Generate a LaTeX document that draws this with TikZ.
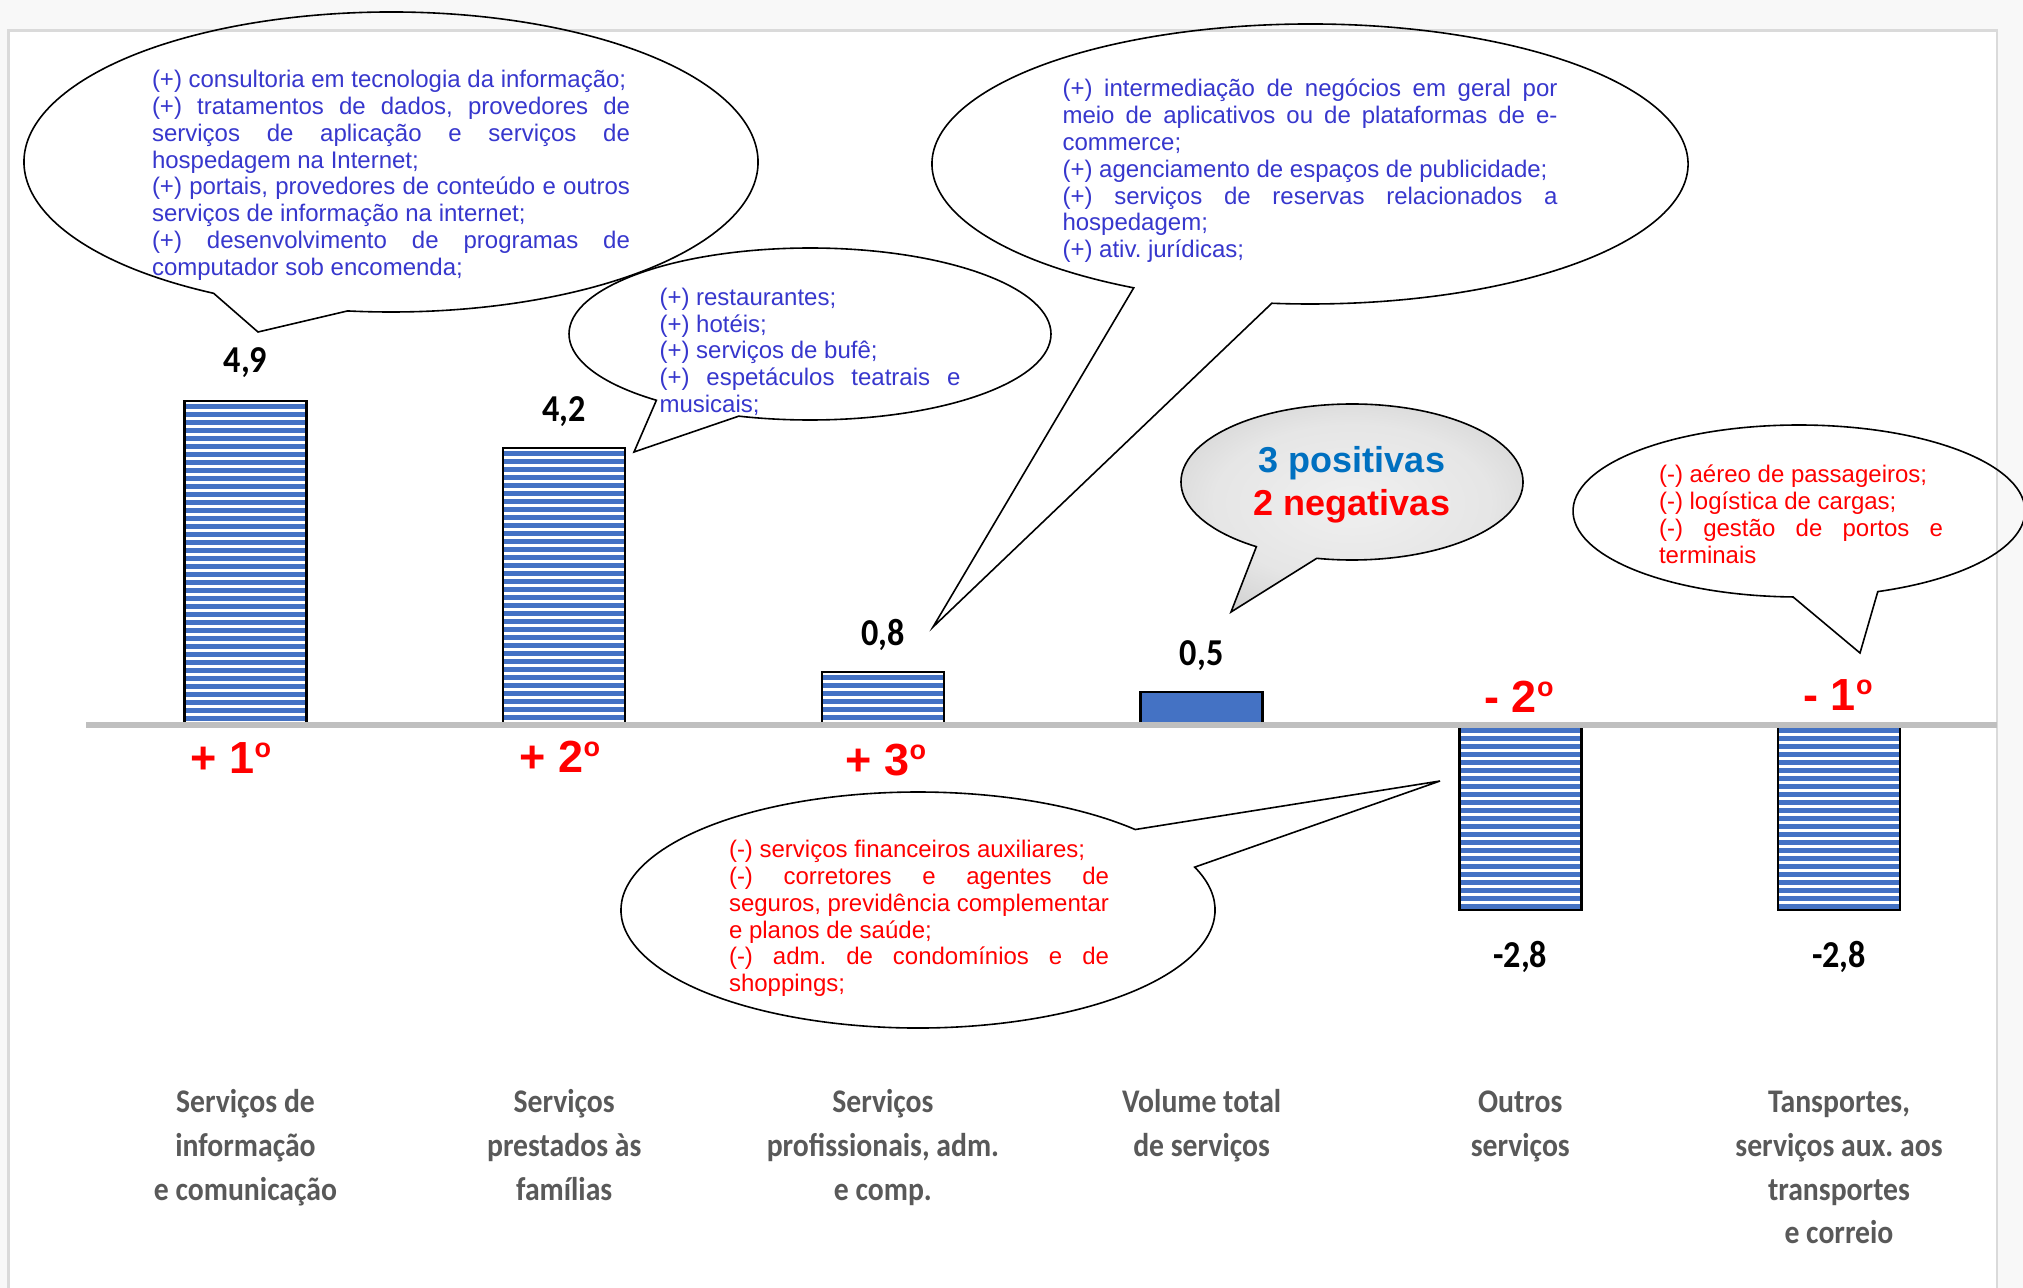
\documentclass[tikz,border=0pt]{standalone}
\usepackage{fontspec}
\setmainfont{Liberation Sans}
\newfontfamily\calfont[FakeStretch=0.9]{Carlito}
\frenchspacing
\definecolor{bgout}{HTML}{F8F8F8}
\definecolor{framegray}{HTML}{DADADA}
\definecolor{axisgray}{HTML}{BFBFBF}
\definecolor{barblue}{HTML}{4472C4}
\definecolor{txtblue}{RGB}{55,55,205}
\definecolor{posblue}{HTML}{0070C0}
\definecolor{catgray}{HTML}{595959}
\pgfdeclareradialshading{callgrad}{\pgfpoint{0bp}{0bp}}{color(0bp)=(white!94!black); color(18bp)=(white!90!black); color(50bp)=(black!33)}
\newcommand{\ordo}{\raisebox{8pt}{\fontsize{13.5}{13.5}\selectfont o}}
\newcommand{\jline}[2]{\makebox[#1][s]{#2}}
\newcommand{\stripebar}[4]{%
  \begin{scope}
    \clip (#1,#2) rectangle (#3,#4);
    \foreach \k in {0,...,45}{\fill[barblue] (#1,#2+3.4+8*\k) rectangle (#3,#2+8.2+8*\k);}
  \end{scope}
  \draw[barframe] (#1,#2) rectangle (#3,#4);}
\begin{document}
\begin{tikzpicture}[x=0.5pt,y=-0.5pt,
  callout/.style={draw=black, line width=0.8pt, line join=miter},
  bartxt/.style={font=\calfont\bfseries\fontsize{19}{21}\selectfont, anchor=base, inner sep=0pt},
  rank/.style={font=\bfseries\fontsize{22.5}{24}\selectfont, text=red, anchor=base, inner sep=0pt},
  cat/.style={font=\calfont\bfseries\fontsize{16.5}{21.9}\selectfont, text=catgray, align=center, anchor=north, inner sep=0pt},
  ctext/.style={font=\fontsize{12}{13.4}\selectfont, align=left, anchor=north, inner sep=0pt},
  barframe/.style={draw=black, line width=1.2pt},
]
\useasboundingbox (0,0) rectangle (2023,1288);
% page background and frame
\fill[bgout] (0,0) rectangle (2023,1288);
\fill[white] (8.5,30.5) rectangle (1997,1288);
\draw[framegray, line width=1.2pt] (8.5,1288) -- (8.5,30.5) -- (1997,30.5) -- (1997,1288);

% bars
\stripebar{184.5}{401}{306.5}{725}
\stripebar{503.2}{448}{625.2}{725}
\stripebar{821.9}{672}{943.9}{725}
\fill[barblue] (1140.6,692) rectangle (1262.6,725);
\draw[barframe] (1140.6,692) rectangle (1262.6,725);
\stripebar{1459.3}{725}{1581.3}{910}
\stripebar{1778}{725}{1900}{910}

% axis
\draw[axisgray, line width=3pt] (86,725) -- (1997,725);

% value labels
\node[bartxt] (v1) at (245.5,373) {4,9};
\node[bartxt] (v2) at (564.2,422) {4,2};
\node[bartxt] (v3) at (882.9,645) {0,8};
\node[bartxt] (v4) at (1201.6,665) {0,5};
\node[bartxt] (v5) at (1520.3,967) {-2,8};
\node[bartxt] (v6) at (1839,967) {-2,8};

% rank labels
\node[rank] (r1) at (231,773) {+ 1\ordo};
\node[rank] (r2) at (560,772) {+ 2\ordo};
\node[rank] (r3) at (886,775) {+ 3\ordo};
\node[rank] (r5) at (1519,712) {- 2\ordo};
\node[rank] (r6) at (1838,710) {- 1\ordo};

% category labels
\node[cat] (c1) at (245.5,1086) {\rule{0pt}{13pt}Serviços de\\informação\\e comunicação};
\node[cat] (c2) at (564.2,1086) {\rule{0pt}{13pt}Serviços\\prestados às\\famílias};
\node[cat] (c3) at (882.9,1086) {\rule{0pt}{13pt}Serviços\\profissionais, adm.\\e comp.};
\node[cat] (c4) at (1201.6,1086) {\rule{0pt}{13pt}Volume total\\de serviços};
\node[cat] (c5) at (1520.3,1086) {\rule{0pt}{13pt}Outros\\serviços};
\node[cat] (c6) at (1839,1086) {\rule{0pt}{13pt}Tansportes,\\serviços aux. aos\\transportes\\e correio};

% callout tips
\coordinate (tipA) at (258,332);
\coordinate (tipB) at (634,452);
\coordinate (tipC) at (933,627);
\coordinate (tipD) at (1231,612);
\coordinate (tipE) at (1860,653);
\coordinate (tipF) at (1440,781);

% callout shapes
\draw[callout] (391,162) ++(118.9:367 and 150) arc[start angle=118.9, end angle=456.8, x radius=367, y radius=150] -- (tipA) -- cycle;
\draw[callout] (810,334) ++(129.6:241 and 86) arc[start angle=129.6, end angle=467.2, x radius=241, y radius=86] -- (tipB) -- cycle;
\draw[callout] (1310,164) ++(117.8:378 and 140) arc[start angle=117.8, end angle=455.8, x radius=378, y radius=140] -- (tipC) -- cycle;
\shadedraw[shading=callgrad, callout] (1352,482) ++(124:171 and 78) arc[start angle=124, end angle=461.9, x radius=171, y radius=78] -- (tipD) -- cycle;
\draw[callout] (1799,511) ++(91.5:226 and 86) arc[start angle=91.5, end angle=429.6, x radius=226, y radius=86] -- (tipE) -- cycle;
\draw[callout] (918,910) ++(-21.3:297 and 118) arc[start angle=-21.3, end angle=317, x radius=297, y radius=118] -- (tipF) -- cycle;

% callout texts
\node[ctext, text=txtblue] (tA) at (391,69.3) {\rule{0pt}{9pt}(+) consultoria em tecnologia da informação;\\
\jline{239pt}{(+) tratamentos de dados, provedores de}\\
\jline{239pt}{serviços de aplicação e serviços de}\\
hospedagem na Internet;\\
\jline{239pt}{(+) portais, provedores de conteúdo e outros}\\
serviços de informação na internet;\\
\jline{239pt}{(+) desenvolvimento de programas de}\\
computador sob encomenda;};

\node[ctext, text=txtblue] (tB) at (810,287) {\rule{0pt}{9pt}(+) restaurantes;\\
(+) hotéis;\\
(+) serviços de bufê;\\
\jline{150.5pt}{(+) espetáculos teatrais e}\\
musicais;};

\node[ctext, text=txtblue] (tC) at (1310,78.6) {\rule{0pt}{9pt}\jline{247.5pt}{(+) intermediação de negócios em geral por}\\
\jline{247.5pt}{meio de aplicativos ou de plataformas de e-}\\
commerce;\\
(+) agenciamento de espaços de publicidade;\\
\jline{247.5pt}{(+) serviços de reservas relacionados a}\\
hospedagem;\\
(+) ativ. jurídicas;};

\node[font=\bfseries\fontsize{18}{21.5}\selectfont, align=center, anchor=north, inner sep=0pt] (tD) at (1352,444) {\rule{0pt}{14pt}\textcolor{posblue}{3 positivas}\\\textcolor{red}{2 negativas}};

\node[ctext, text=red] (tE) at (1801,464.6) {\rule{0pt}{9pt}(-) aéreo de passageiros;\\
(-) logística de cargas;\\
\jline{142pt}{(-) gestão de portos e}\\
terminais};

\node[ctext, text=red] (tF) at (919,839.3) {\rule{0pt}{9pt}(-) serviços financeiros auxiliares;\\
\jline{190pt}{(-) corretores e agentes de}\\
\jline{190pt}{seguros, previdência complementar}\\
e planos de saúde;\\
\jline{190pt}{(-) adm. de condomínios e de}\\
shoppings;};
\end{tikzpicture}
\end{document}
